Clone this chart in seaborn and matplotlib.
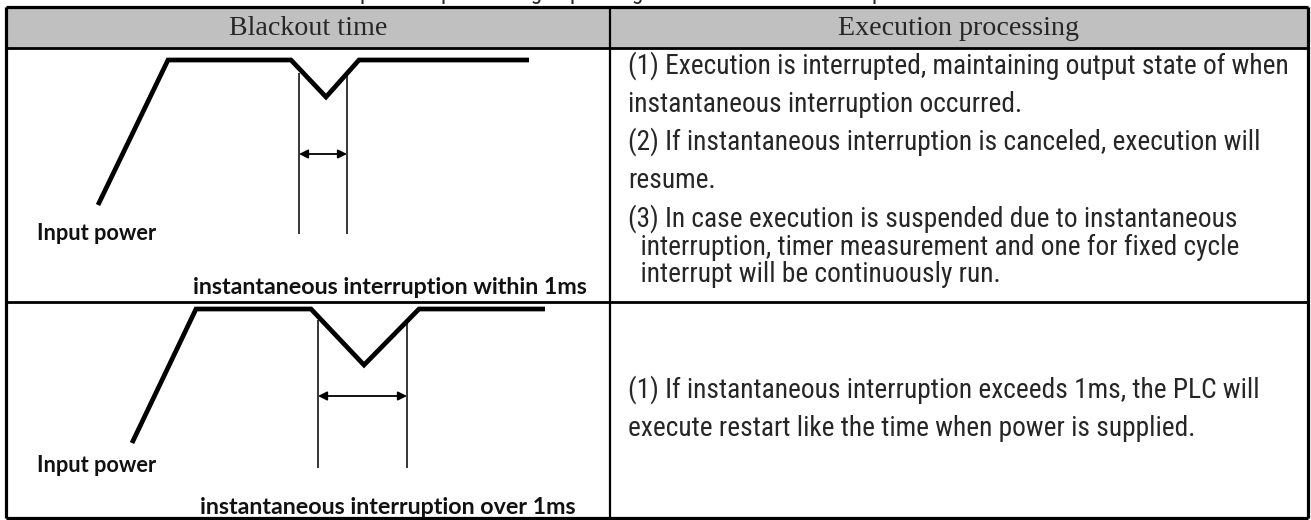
import numpy as np
import pandas as pd
import matplotlib
matplotlib.use("Agg")
import matplotlib.pyplot as plt
from matplotlib import font_manager
from matplotlib.patches import Rectangle
import seaborn as sns

#########################################
################ DATA ###################
#########################################

header_labels = ["Blackout time", "Execution processing"]

# input power waveform per row (page pixels, y grows downward)
wave1_x = [98, 168, 291, 326, 359, 529]
wave1_y = [205, 60, 60, 97, 60, 60]
wave2_x = [132, 196, 311, 364, 419, 545]
wave2_y = [443, 309, 309, 365, 309, 309]

# blackout start / end markers
gap1_x = [299, 347]
gap2_x = [318, 407]

power_label = "Input power"
gap_labels = ["instantaneous interruption within 1ms",
              "instantaneous interruption over 1ms"]

row1_text = [
    "(1) Execution is interrupted, maintaining output state of when",
    "instantaneous interruption occurred.",
    "(2) If instantaneous interruption is canceled, execution will",
    "resume.",
    "(3) In case execution is suspended due to instantaneous",
    "  interruption, timer measurement and one for fixed cycle",
    "  interrupt will be continuously run.",
]
row2_text = [
    "(1) If instantaneous interruption exceeds 1ms, the PLC will",
    "execute restart like the time when power is supplied.",
]
title_text = "Operation processing depending on instantaneous interruption time"

#########################################
################ LAYOUT #################
#########################################

W, H = 1311, 520
col_edges = [6, 610, 1308]
row_edges = [7, 48, 302, 518]

sns.set_theme(style="white")
available = {f.name for f in font_manager.fontManager.ttflist}


def pick(names, default):
    for n in names:
        if n in available:
            return n
    return default


body_font = pick(["Liberation Sans Narrow", "Roboto Condensed", "Noto Sans Condensed"],
                 "Liberation Sans")
label_font = pick(["Lato", "Open Sans"], "DejaVu Sans")
head_font = "Liberation Serif"

fig = plt.figure(figsize=(W / 100, H / 100), dpi=100)
ax = fig.add_axes([0, 0, 1, 1])

# header band
ax.add_patch(Rectangle((col_edges[0], row_edges[0]), col_edges[-1] - col_edges[0],
                       row_edges[1] - row_edges[0], color="#c0c0c0", zorder=0))

# table rules
ax.hlines([row_edges[0], row_edges[-1]], col_edges[0], col_edges[-1], color="black", lw=2.3)
ax.hlines(row_edges[1:3], col_edges[0], col_edges[-1], color="black", lw=2.0)
ax.vlines([col_edges[0], col_edges[-1]], row_edges[0], row_edges[-1], color="black", lw=2.3)
ax.vlines(col_edges[1], row_edges[0], row_edges[-1], color="black", lw=1.6)

# waveforms
waves = pd.concat([
    pd.DataFrame({"x": wave1_x, "y": wave1_y, "row": "r1"}),
    pd.DataFrame({"x": wave2_x, "y": wave2_y, "row": "r2"}),
])
sns.lineplot(data=waves, x="x", y="y", units="row", estimator=None, sort=False,
             color="black", lw=3.4, solid_joinstyle="miter", solid_capstyle="butt", ax=ax)
ax.set_xlim(0, W)
ax.set_ylim(H, 0)
ax.axis("off")

# markers + double arrows
for gx, (top, bot), ay in [(gap1_x, (73, 234), 154), (gap2_x, (320, 468), 396)]:
    ax.vlines(gx, top, bot, color="black", lw=1.1)
    ax.annotate("", xy=(gx[1], ay), xytext=(gx[0], ay),
                arrowprops=dict(arrowstyle="<|-|>", color="black", lw=1.3,
                                mutation_scale=13, shrinkA=0, shrinkB=0))

fig.canvas.draw()
renderer = fig.canvas.get_renderer()


def fit(t, width):
    w = t.get_window_extent(renderer).width
    t.set_fontsize(t.get_fontsize() * width / w)
    return t.get_fontsize()


# header labels
centers = [(col_edges[0] + col_edges[1]) / 2, (col_edges[1] + col_edges[2]) / 2]
hy = (row_edges[0] + row_edges[1]) / 2 + 1
t = ax.text(centers[0], hy, header_labels[0], ha="center", va="center",
            family=head_font, fontsize=18)
hs = fit(t, 158)
ax.text(centers[1], hy, header_labels[1], ha="center", va="center",
        family=head_font, fontsize=hs)

# diagram labels
lab_kw = dict(family=label_font, fontweight="bold", va="center", color="#111111")
t = ax.text(37, 234, power_label, fontsize=14, **lab_kw)
ls = fit(t, 120)
ax.text(37, 466, power_label, fontsize=ls, **lab_kw)
t = ax.text(193, 287, gap_labels[0], fontsize=ls, **lab_kw)
gs = fit(t, 395)
ax.text(200, 507, gap_labels[1], fontsize=gs, **lab_kw)

# execution processing text
tx = 628
t = ax.text(tx, 66, row1_text[0], family=body_font, fontsize=16, va="center")
bs = fit(t, 660)
for s, y in zip(row1_text[1:], [104, 142, 180, 219, 247, 275]):
    ax.text(tx, y, s, family=body_font, fontsize=bs, va="center")
for s, y in zip(row2_text, [390, 428]):
    ax.text(tx, y, s, family=body_font, fontsize=bs, va="center")

# clipped caption line above the table (only descenders show in the page)
ax.text(W / 2, -1.5, title_text, family=body_font, fontsize=bs * 0.85,
        ha="center", va="baseline")

fig.savefig("out.png", dpi=100)
